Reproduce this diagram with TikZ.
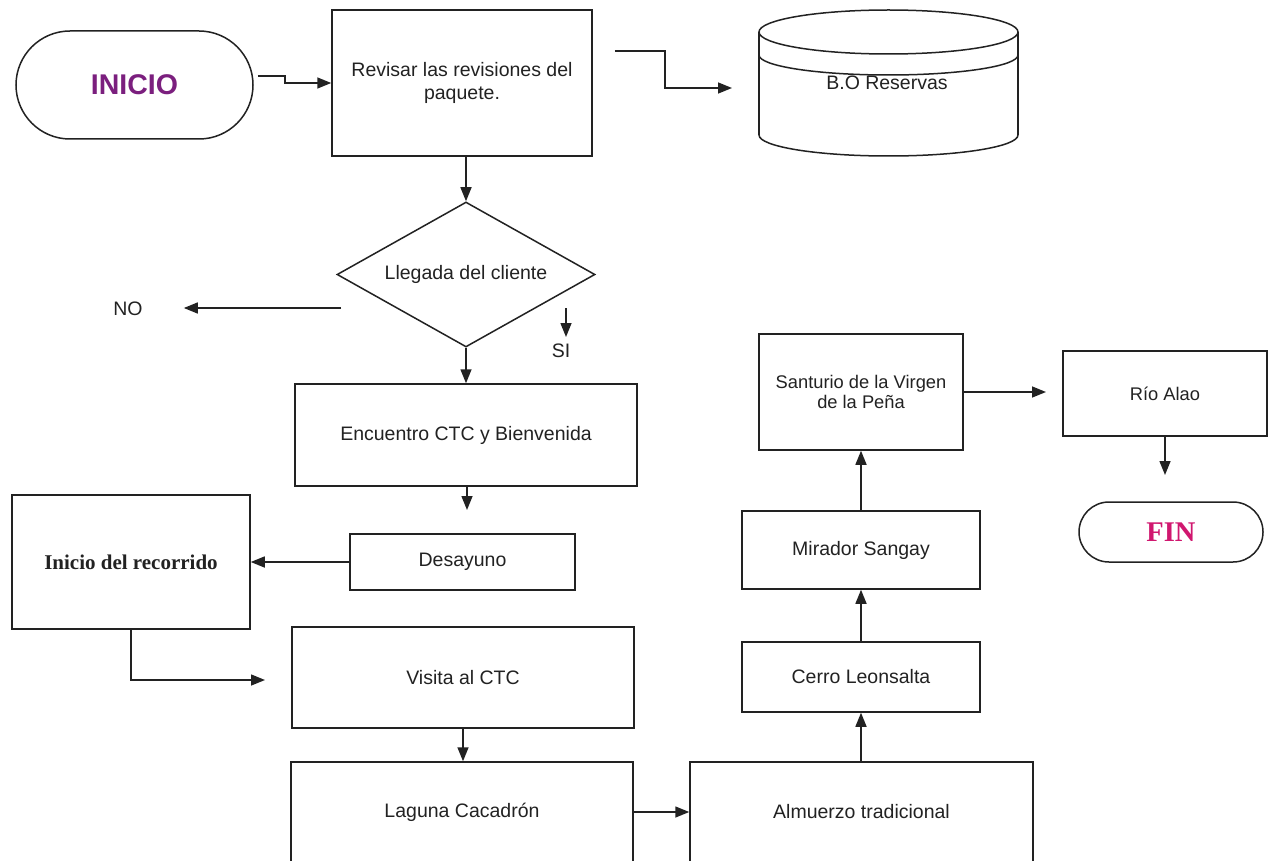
\documentclass[tikz,border=0pt]{standalone}
\usepackage{fontspec}
\setmainfont{Liberation Sans}
\newfontfamily\serifb{Liberation Serif}
\usetikzlibrary{shapes.geometric,shapes.misc,arrows.meta}
\definecolor{inipurple}{HTML}{7B1F7E}
\definecolor{finpink}{HTML}{D0176F}
\definecolor{ln}{HTML}{222222}
\begin{document}
\begin{tikzpicture}[x=1pt,y=-1pt,
  box/.style={draw=ln,line width=1.5pt,rectangle,inner sep=0pt,align=center,text=ln,
    font=\fontsize{19.5}{23}\selectfont},
  smallbox/.style={box,font=\fontsize{18.3}{20}\selectfont},
  term/.style={draw=ln,line width=1.5pt,rounded rectangle,inner sep=0pt},
  lbl/.style={inner sep=0pt,text=ln,font=\fontsize{19.5}{23}\selectfont},
  arr/.style={draw=ln,line width=1.5pt,-{Triangle[length=14pt,width=11pt]}},
  shp/.style={draw=ln,line width=1.5pt}]
\useasboundingbox (0,0) rectangle (1274,861);
\clip (0,0) rectangle (1274,861);
\fill[white] (0,0) rectangle (1274,861);

% nodes
\node[term,minimum width=237pt,minimum height=108pt] (ini) at (134.5,85)
  {\fontsize{28.5}{30}\selectfont\bfseries\color{inipurple}INICIO};
\node[box,minimum width=260pt,minimum height=146pt] (rev) at (462,83)
  {Revisar las revisiones del\\paquete.};
\node[shp,diamond,aspect=1.78,inner sep=0pt,minimum width=258pt,minimum height=145pt,
  text=ln,font=\fontsize{19.5}{23}\selectfont] (dia) at (466,274.5) {Llegada del cliente};
\node[lbl] (no) at (128,309) {NO};
\node[lbl] (si) at (561,351) {SI};
\node[box,minimum width=342pt,minimum height=102pt] (enc) at (466,435) {Encuentro CTC y Bienvenida};
\node[box,minimum width=225pt,minimum height=56pt] (des) at (462.5,562) {Desayuno};
\node[box,minimum width=238pt,minimum height=134pt] (irec) at (131,562)
  {\serifb\bfseries\fontsize{21}{24}\selectfont Inicio del recorrido};
\node[box,minimum width=342pt,minimum height=101pt] (vis) at (463,677.5) {Visita al CTC};
\node[box,minimum width=342pt,minimum height=100pt] (lag) at (462,812) {Laguna Cacadrón};
\node[box,minimum width=343pt,minimum height=100pt] (alm) at (861.5,812) {Almuerzo tradicional};
\node[box,minimum width=238pt,minimum height=70pt] (cer) at (861,677) {Cerro Leonsalta};
\node[box,minimum width=238pt,minimum height=78pt] (mir) at (861,550) {Mirador Sangay};
\node[smallbox,minimum width=204pt,minimum height=116pt] (san) at (861,392)
  {Santurio de la Virgen\\de la Peña};
\node[smallbox,minimum width=204pt,minimum height=85pt] (rio) at (1165,393.5) {Río Alao};
\node[term,minimum width=184pt,minimum height=60pt] (fin) at (1171,532)
  {\serifb\bfseries\fontsize{28.5}{30}\selectfont\color{finpink}FIN};

% cylinder B.O Reservas
\draw[shp] (888.5,32) ellipse [x radius=129.5pt, y radius=22pt];
\draw[shp] (759,55) arc[start angle=180,end angle=360,x radius=129.5pt,y radius=20pt];
\draw[shp] (759,32) -- (759,135);
\draw[shp] (1018,32) -- (1018,135);
\draw[shp] (759,135) arc[start angle=180,end angle=360,x radius=129.5pt,y radius=21pt];
\node[lbl] (bo) at (887,83) {B.O Reservas};

% free ends
\coordinate (boin) at (732,88);
\coordinate (nos) at (341,308);
\coordinate (sis) at (566,308);
\coordinate (sie) at (566,337);
\coordinate (desin) at (467,510);
\coordinate (visin) at (265,680);
\coordinate (rioin) at (1046,392);
\coordinate (finin) at (1165,475);

% connectors
\draw[arr] ([xshift=4pt,yshift=9pt]ini.east) -| (285,83) -- (rev.west |- 0,83);
\draw[arr] ([xshift=22pt,yshift=32pt]rev.east) -| (665,88) -- (boin);
\draw[arr] (rev.south -| dia.north) -- (dia.north);
\draw[arr] (nos) -- ([xshift=41pt]no.east |- nos);
\draw[arr] (sis) -- (sie);
\draw[arr] (dia.south) -- (dia.south |- enc.north);
\draw[arr] (enc.south -| desin) -- (desin);
\draw[arr] (des.west) -- (irec.east |- des.west);
\draw[arr] (irec.south) |- (visin);
\draw[arr] (vis.south) -- (vis.south |- lag.north);
\draw[arr] (lag.east) -- (alm.west);
\draw[arr] (alm.north -| cer.south) -- (cer.south);
\draw[arr] (cer.north) -- (mir.south);
\draw[arr] (mir.north) -- (san.south);
\draw[arr] (san.east) -- (rioin);
\draw[arr] (rio.south) -- (finin);
\end{tikzpicture}
\end{document}
